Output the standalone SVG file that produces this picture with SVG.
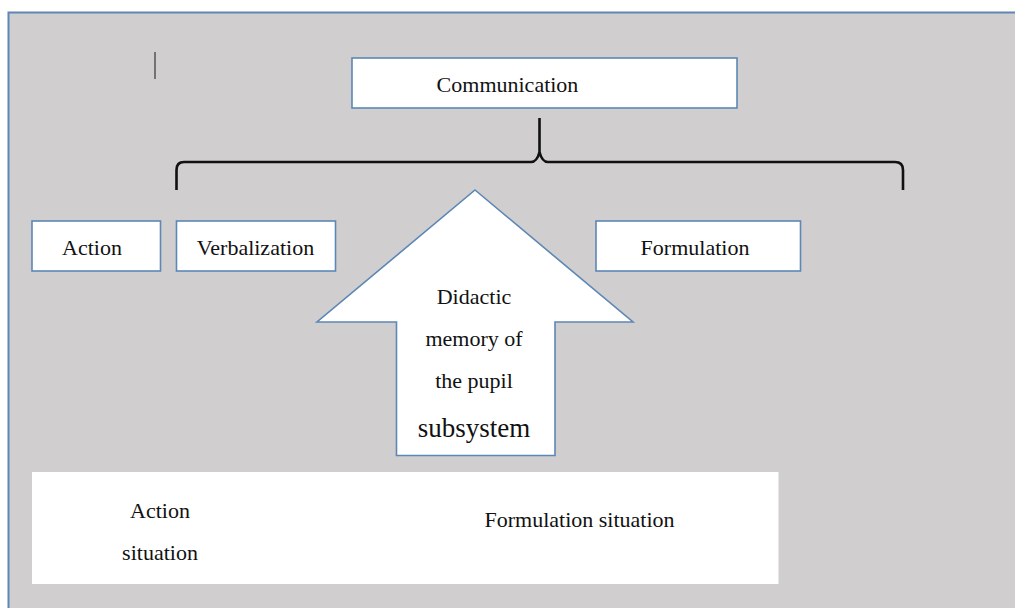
<svg xmlns="http://www.w3.org/2000/svg" width="1015" height="608" viewBox="0 0 1015 608">
<style>
.box{fill:#fff;stroke:#5C87B6;stroke-width:1.6}
.t{font-family:"Liberation Serif","Times New Roman",serif;font-size:22px;fill:#111;text-anchor:middle}
.brace{fill:none;stroke:#111;stroke-width:2.6;stroke-linejoin:round}
</style>
<rect width="1015" height="608" fill="#fff"/>
<rect id="frame" x="8.5" y="12.5" width="1020" height="610" fill="#D0CECF" stroke="#5C87B6" stroke-width="2"/>
<line x1="155" y1="52" x2="155" y2="79" stroke="#555" stroke-width="1.5"/>
<g id="communication">
<rect class="box" x="352" y="58" width="385" height="50"/>
<text class="t" x="507.5" y="92">Communication</text>
</g>
<g id="connectors">
<path class="brace" d="M176.5,190 L176.5,170 Q176.5,162 184,162 L531,162 Q537,162 539.5,152 L539.5,118 M539.5,152 Q542,162 548,162 L895,162 Q903,162 903,170 L903,190"/>
</g>
<g id="action">
<rect class="box" x="32" y="221" width="128.5" height="50"/>
<text class="t" x="92" y="254.5">Action</text>
</g>
<g id="verbalization">
<rect class="box" x="176.5" y="221" width="159" height="50"/>
<text class="t" x="255.5" y="254.5">Verbalization</text>
</g>
<g id="formulation">
<rect class="box" x="596" y="221" width="204.5" height="50"/>
<text class="t" x="695" y="255">Formulation</text>
</g>
<g id="memory">
<polygon class="box" points="475,190 633,322 555,322 555,455.5 396.5,455.5 396.5,322 317,322"/>
<text class="t" x="474" y="303.5">Didactic</text>
<text class="t" x="474" y="345.5">memory of</text>
<text class="t" x="474" y="388">the pupil</text>
<text class="t" x="474" y="437" style="font-size:27px">subsystem</text>
</g>
<g id="situations">
<rect x="32" y="472" width="746.5" height="112" fill="#fff"/>
<text class="t" x="160" y="518">Action</text>
<text class="t" x="160" y="560">situation</text>
<text class="t" x="579.5" y="527">Formulation situation</text>
</g>
</svg>
